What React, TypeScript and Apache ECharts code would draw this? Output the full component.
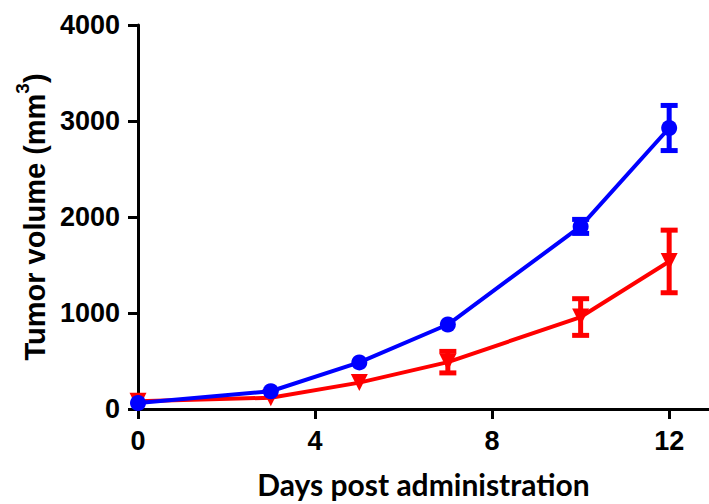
import React, { useEffect, useRef } from "react";
import * as echarts from "echarts";

const days = [0, 3, 5, 7, 10, 12];
const blueMean = [62, 185, 485, 880, 1902, 2927];
const blueErr = [0, 0, 0, 0, 73, 235];
const redMean = [80, 118, 275, 488, 958, 1537];
const redErr = [0, 0, 0, 112, 191, 326];
const xTicks = [0, 4, 8, 12];
const xTitle = "Days post administration";
const yTitleMain = "Tumor volume (mm";
const yTitleSup = "3";

const BLUE = "#0000FF";
const RED = "#FF0000";

function errData(mean: number[], err: number[]) {
  return days
    .map((d, i) => [d, mean[i] - err[i], mean[i] + err[i]])
    .filter((_, i) => err[i] > 0);
}

function errSeries(mean: number[], err: number[], color: string, z: number) {
  return {
    type: "custom",
    z,
    data: errData(mean, err),
    renderItem: (params: any, api: any) => {
      const x = api.value(0);
      const lo = api.coord([x, api.value(1)]);
      const hi = api.coord([x, api.value(2)]);
      const hw = 8.5;
      const style = { stroke: color, lineWidth: 5 };
      return {
        type: "group",
        children: [
          { type: "line", shape: { x1: lo[0], y1: lo[1], x2: hi[0], y2: hi[1] }, style },
          { type: "line", shape: { x1: hi[0] - hw, y1: hi[1], x2: hi[0] + hw, y2: hi[1] }, style },
          { type: "line", shape: { x1: lo[0] - hw, y1: lo[1], x2: lo[0] + hw, y2: lo[1] }, style },
        ],
      };
    },
  };
}

export default function App() {
  const ref = useRef<HTMLDivElement>(null);
  useEffect(() => {
    if (!ref.current) return;
    const chart = echarts.init(ref.current, undefined, { renderer: "svg" });
    const labelFont = {
      color: "#000",
      fontFamily: "Liberation Sans, Arial, sans-serif",
      fontWeight: "bold" as const,
      fontSize: 27,
    };
    chart.setOption({
      animation: false,
      grid: { left: 138, right: 0, top: 25, bottom: 95, containLabel: false },
      xAxis: {
        type: "value",
        min: 0,
        max: 12.9,
        interval: 4,
        name: xTitle,
        nameLocation: "middle",
        nameGap: 60,
        nameTextStyle: {
          color: "#000",
          fontFamily: "Lato, sans-serif",
          fontWeight: "bold",
          fontSize: 30,
        },
        axisLine: { show: true, onZero: false, lineStyle: { color: "#000", width: 3 } },
        axisTick: { show: true, length: 10, lineStyle: { color: "#000", width: 3 }, customValues: xTicks },
        axisLabel: { ...labelFont, margin: 18, customValues: xTicks, formatter: (v: number) => String(v) },
        splitLine: { show: false },
      },
      yAxis: {
        type: "value",
        min: 0,
        max: 4000,
        interval: 1000,
        name: `{a|${yTitleMain}}{s|${yTitleSup}}{a|)}`,
        nameLocation: "middle",
        nameRotate: 90,
        nameGap: 80,
        nameTextStyle: {
          rich: {
            a: {
              color: "#000",
              fontFamily: "Liberation Sans, Arial, sans-serif",
              fontWeight: "bold",
              fontSize: 29,
              lineHeight: 44,
            },
            s: {
              color: "#000",
              fontFamily: "Liberation Sans, Arial, sans-serif",
              fontWeight: "bold",
              fontSize: 19,
              lineHeight: 18,
              verticalAlign: "top",
            },
          },
        },
        axisLine: { show: true, onZero: false, lineStyle: { color: "#000", width: 3 } },
        axisTick: { show: true, length: 10, lineStyle: { color: "#000", width: 3 } },
        axisLabel: { ...labelFont, margin: 18, formatter: (v: number) => String(v) },
        splitLine: { show: false },
      },
      series: [
        {
          type: "line",
          z: 2,
          data: days.map((d, i) => [d, redMean[i]]),
          symbol: "triangle",
          symbolRotate: 180,
          symbolSize: 17,
          itemStyle: { color: RED },
          lineStyle: { color: RED, width: 4 },
        },
        errSeries(redMean, redErr, RED, 3),
        {
          type: "line",
          z: 4,
          data: days.map((d, i) => [d, blueMean[i]]),
          symbol: "circle",
          symbolSize: 16,
          itemStyle: { color: BLUE },
          lineStyle: { color: BLUE, width: 4 },
        },
        errSeries(blueMean, blueErr, BLUE, 5),
      ],
    });
    return () => chart.dispose();
  }, []);
  return (
    <div
      ref={ref}
      style={{ position: "fixed", left: 0, top: 0, width: 709, height: 504, background: "#fff" }}
    />
  );
}
